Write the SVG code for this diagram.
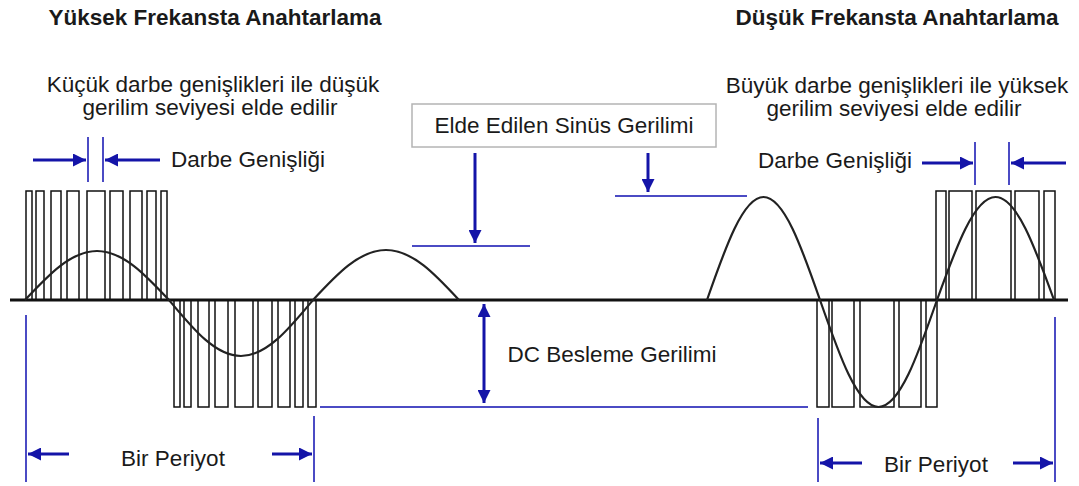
<svg xmlns="http://www.w3.org/2000/svg" width="1079" height="486" viewBox="0 0 1079 486">
<defs>
<style>
.t{font-family:"Liberation Sans",Arial,sans-serif;font-size:22.5px;fill:#1a1a1a;text-anchor:middle}
.b{font-weight:bold}
.p{fill:none;stroke:#111;stroke-width:1.5}
.ar{fill:none;stroke:#1414a8;stroke-width:3}
.tl{fill:none;stroke:#4b4bc4;stroke-width:2}
.sine{fill:none;stroke:#222;stroke-width:2.2}
</style>
<marker id="ah" markerUnits="userSpaceOnUse" markerWidth="14" markerHeight="13" refX="13" refY="6.5" orient="auto-start-reverse">
<path d="M0,0 L13,6.5 L0,13 z" fill="#1414a8"/>
</marker>
</defs>
<rect width="1079" height="486" fill="#fff"/>

<g id="titles">
<text class="t b" x="215" y="25">Yüksek Frekansta Anahtarlama</text>
<text class="t b" x="897" y="25">Düşük Frekansta Anahtarlama</text>
<text class="t" x="213" y="92">Küçük darbe genişlikleri ile düşük</text>
<text class="t" x="210" y="115">gerilim seviyesi elde edilir</text>
<text class="t" x="897" y="93">Büyük darbe genişlikleri ile yüksek</text>
<text class="t" x="894" y="116">gerilim seviyesi elde edilir</text>
<text class="t" x="248" y="167">Darbe Genişliği</text>
<text class="t" x="835" y="168">Darbe Genişliği</text>
<text class="t" x="612" y="362">DC Besleme Gerilimi</text>
<text class="t" x="173" y="466">Bir Periyot</text>
<text class="t" x="936" y="472">Bir Periyot</text>
</g>

<g id="sine-label">
<rect x="412" y="104" width="304" height="43" fill="#fff" stroke="#b4b4b4" stroke-width="1.5"/>
<text class="t" x="564" y="133">Elde Edilen Sinüs Gerilimi</text>
</g>

<g id="pulses-left">
<rect class="p" x="26" y="191" width="6" height="109"/>
<rect class="p" x="36" y="191" width="8" height="109"/>
<rect class="p" x="51" y="191" width="10" height="109"/>
<rect class="p" x="67" y="191" width="12" height="109"/>
<rect class="p" x="87" y="191" width="18" height="109"/>
<rect class="p" x="110" y="191" width="13" height="109"/>
<rect class="p" x="130" y="191" width="12" height="109"/>
<rect class="p" x="147" y="191" width="9" height="109"/>
<rect class="p" x="161" y="191" width="6" height="109"/>
<rect class="p" x="174" y="300" width="6" height="107"/>
<rect class="p" x="184" y="300" width="7" height="107"/>
<rect class="p" x="198" y="300" width="11" height="107"/>
<rect class="p" x="215" y="300" width="13" height="107"/>
<rect class="p" x="235" y="300" width="18" height="107"/>
<rect class="p" x="258" y="300" width="14" height="107"/>
<rect class="p" x="278" y="300" width="12" height="107"/>
<rect class="p" x="295" y="300" width="8" height="107"/>
<rect class="p" x="308" y="300" width="8" height="107"/>
</g>

<g id="pulses-right">
<rect class="p" x="936" y="191" width="10" height="109"/>
<rect class="p" x="949" y="191" width="23" height="109"/>
<rect class="p" x="976" y="191" width="35" height="109"/>
<rect class="p" x="1015" y="191" width="24" height="109"/>
<rect class="p" x="1044" y="191" width="11" height="109"/>
<rect class="p" x="817" y="300" width="12" height="107"/>
<rect class="p" x="832" y="300" width="22" height="107"/>
<rect class="p" x="860" y="300" width="34" height="107"/>
<rect class="p" x="899" y="300" width="22" height="107"/>
<rect class="p" x="926" y="300" width="11" height="107"/>
</g>

<g id="axis">
<line x1="10" y1="300" x2="1068" y2="300" stroke="#111" stroke-width="3"/>
</g>

<g id="sine-left">
<path class="sine" d="M25,300 C48.5,274.9 70.9,251 97,251 C123.1,251 145.5,274.9 169,300 C192.5,328.2 214.9,356 241,356 C267.1,356 289.5,328.2 313,300 C336.7,274.4 359.4,250 386,250 C412.6,250 435.3,274.4 459,300"/>
</g>

<g id="sine-right">
<path class="sine" stroke-width="3" d="M707,300 C725.4,247.2 743.05,197 763.5,197 C783.95,197 801.6,247.2 820,300 C839.1,354.8 857.3,407 878.5,407 C899.7,407 917.9,354.8 937,300 C956.1,247.2 974.3,197 995.5,197 C1016.7,197 1034.9,247.2 1054,300"/>
</g>

<g id="connectors">
<!-- pulse width left -->
<line class="tl" x1="88" y1="137" x2="88" y2="182"/>
<line class="tl" x1="103" y1="137" x2="103" y2="182"/>
<line class="ar" x1="33" y1="160" x2="86" y2="160" marker-end="url(#ah)"/>
<line class="ar" x1="160" y1="160" x2="105" y2="160" marker-end="url(#ah)"/>
<!-- pulse width right -->
<line class="tl" x1="975" y1="142" x2="975" y2="185"/>
<line class="tl" x1="1009" y1="142" x2="1009" y2="185"/>
<line class="ar" x1="922" y1="163" x2="973" y2="163" marker-end="url(#ah)"/>
<line class="ar" x1="1066" y1="163" x2="1011" y2="163" marker-end="url(#ah)"/>
<!-- period left -->
<line class="tl" x1="26" y1="315" x2="26" y2="482"/>
<line class="tl" x1="314" y1="416" x2="314" y2="482"/>
<line class="ar" x1="69" y1="454" x2="28" y2="454" marker-end="url(#ah)"/>
<line class="ar" x1="272" y1="454" x2="312" y2="454" marker-end="url(#ah)"/>
<!-- period right -->
<line class="tl" x1="818" y1="418" x2="818" y2="482"/>
<line class="tl" x1="1055" y1="317" x2="1055" y2="482"/>
<line class="ar" x1="862" y1="463" x2="820" y2="463" marker-end="url(#ah)"/>
<line class="ar" x1="1013" y1="463" x2="1053" y2="463" marker-end="url(#ah)"/>
<!-- sine voltage levels -->
<line class="ar" x1="475" y1="153" x2="475" y2="243" marker-end="url(#ah)"/>
<line class="tl" x1="412" y1="246" x2="530" y2="246"/>
<line class="ar" x1="648" y1="153" x2="648" y2="192" marker-end="url(#ah)"/>
<line class="tl" x1="615" y1="196" x2="747" y2="196"/>
<!-- DC supply -->
<line class="ar" x1="484" y1="304" x2="484" y2="403" marker-start="url(#ah)" marker-end="url(#ah)"/>
<line class="tl" x1="320" y1="407" x2="808" y2="407"/>
</g>
</svg>
